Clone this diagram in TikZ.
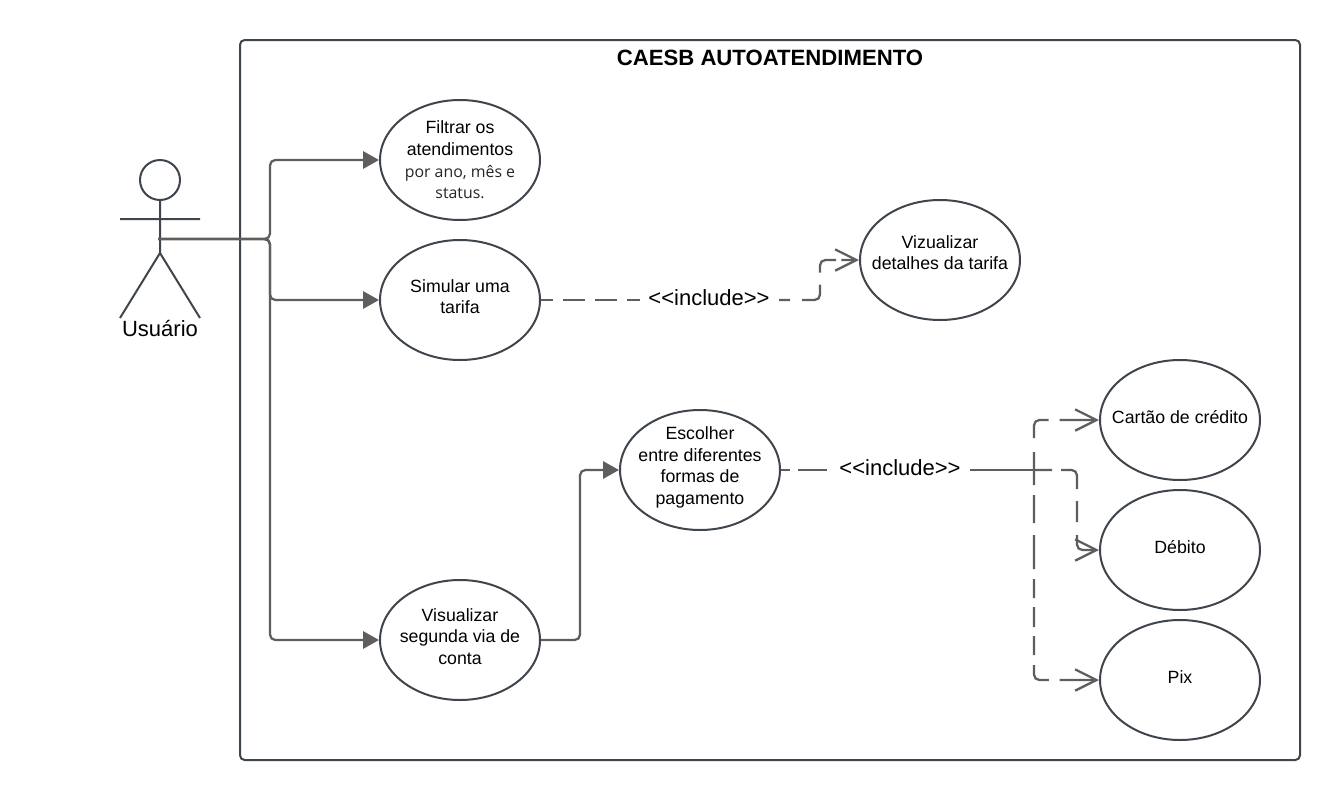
\documentclass[tikz,border=0pt]{standalone}
\usepackage{fontspec}
\setmainfont{Liberation Sans}
\newfontfamily\smallfam{Open Sans}
\usetikzlibrary{arrows.meta,shapes.geometric}
\definecolor{edgeink}{HTML}{3F454C}
\definecolor{connink}{HTML}{5E5E5E}
\tikzset{
  frame/.style={draw=edgeink,line width=1.5pt,rounded corners=3.5pt,minimum width=795pt,minimum height=540pt,inner sep=0pt},
  usecase/.style={draw=edgeink,line width=1.5pt,ellipse,minimum width=120pt,minimum height=90pt,inner sep=0pt},
  uctext/.style={align=center,font=\fontsize{13.3pt}{16.1pt}\selectfont,text=black,inner sep=0pt},
  bigtext/.style={font=\fontsize{16.5pt}{20pt}\selectfont,text=black},
  flow/.style={draw=connink,line width=1.7pt,rounded corners=4pt,-{Triangle[length=12pt,width=13pt]}},
  incl/.style={draw=connink,line width=1.7pt,rounded corners=4pt,dash pattern=on 16.5pt off 7.5pt,dash phase=7.5pt},
  opentip/.style={-{Straight Barb[length=16pt,width=16pt,line width=1.7pt]}},
  actorline/.style={draw=edgeink,line width=1.5pt}
}
\begin{document}
\begin{tikzpicture}[x=0.75pt,y=-0.75pt]
\useasboundingbox (0,0) rectangle (1340,800);
\fill[white] (0,0) rectangle (1340,800);
\node[frame] (sys) at (770,400) {};
\node[bigtext,font=\fontsize{16.6pt}{20pt}\selectfont\bfseries] (title) at (770,58) {CAESB AUTOATENDIMENTO};
% actor
\node[actorline,circle,minimum size=30pt,inner sep=0pt] (head) at (160,180) {};
\coordinate (neck) at (160,200);
\coordinate (hip) at (160,253);
\coordinate (armL) at (120,219);
\coordinate (armR) at (200,219);
\coordinate (legL) at (120,318);
\coordinate (legR) at (200,318);
\coordinate (actor) at (158,239);
\draw[actorline] (neck) -- (hip) (armL) -- (armR) (legL) -- (hip) -- (legR);
\node[bigtext] (actorname) at (160,329) {Usuário};
% use cases
\node[usecase] (filtrar) at (460,160) {};
\node[usecase] (simular) at (460,300) {};
\node[usecase] (segunda) at (460,640) {};
\node[usecase] (detalhes) at (940,260) {};
\node[usecase] (formas) at (700,470) {};
\node[usecase] (cartao) at (1180,420) {};
\node[usecase] (debito) at (1180,550) {};
\node[usecase] (pix) at (1180,680) {};
\node[uctext] (tf) at (460,138) {Filtrar os\\atendimentos};
\node[uctext,align=center,font=\smallfam\fontsize{11.9pt}{16pt}\selectfont,text=black!85] (tf2) at (460,182) {por ano, mês e\\status.};
\node[uctext] (ts) at (460,296.5) {Simular uma\\tarifa};
\node[uctext] (tv) at (460,636.5) {Visualizar\\segunda via de\\conta};
\node[uctext] (td) at (940,252.5) {Vizualizar\\detalhes da tarifa};
\node[uctext] (te) at (700,467.5) {Escolher\\entre diferentes\\formas de\\pagamento};
\node[uctext] (tc) at (1180,417) {Cartão de crédito};
\node[uctext] (tb) at (1180,547) {Débito};
\node[uctext] (tp) at (1180,677) {Pix};
% actor connectors
\coordinate (trunk) at (270,239);
\draw[flow] (actor) -- (trunk) |- (filtrar.west);
\draw[flow] (actor) -- (trunk) |- (simular.west);
\draw[flow] (actor) -- (trunk) |- (segunda.west);
\coordinate (midv) at (580,555);
\draw[flow] (segunda.east) -| (midv) |- (formas.west);
% include 1
\node[bigtext,inner sep=0pt] (inc1) at (709,298) {<{}<include>{}>};
\coordinate (inc1l) at (640,300);
\coordinate (inc1r) at (779,300);
\coordinate (bend1) at (820,280);
\draw[incl] (simular.east) -- (inc1l);
\draw[incl,opentip,dash pattern=on 8.25pt off 9pt on 23.25pt off 9pt on 19.5pt off 4pt on 60pt,dash phase=0pt] (inc1r) -| (bend1) |- (detalhes.west);
% include 2
\node[bigtext,inner sep=0pt] (inc2) at (900,468) {<{}<include>{}>};
\coordinate (inc2l) at (827,470);
\coordinate (inc2r) at (970,470);
\coordinate (junc) at (1034,470);
\coordinate (midx) at (1077,510);
\draw[incl,dash pattern=on 6.75pt off 6pt on 60pt,dash phase=0pt] (formas.east) -- (inc2l);
\draw[draw=connink,line width=1.7pt] (inc2r) -- (junc);
\draw[incl,opentip,dash pattern=on 13.5pt off 10.5pt on 22.5pt off 8.25pt on 60pt,dash phase=0pt] (junc) |- (cartao.west);
\draw[incl,opentip,dash pattern=on 13.5pt off 6.75pt on 24.5pt off 9pt on 15.75pt off 9.75pt on 60pt,dash phase=0pt] (junc) -| (midx) |- (debito.west);
\draw[incl,opentip,dash pattern=on 11.25pt off 7.5pt on 21pt off 9pt on 25.5pt off 7.5pt on 14.25pt off 6.75pt on 15pt off 6.75pt on 14.25pt off 7.5pt on 20.5pt off 8pt on 60pt,dash phase=0pt] (junc) |- (pix.west);
\end{tikzpicture}
\end{document}
